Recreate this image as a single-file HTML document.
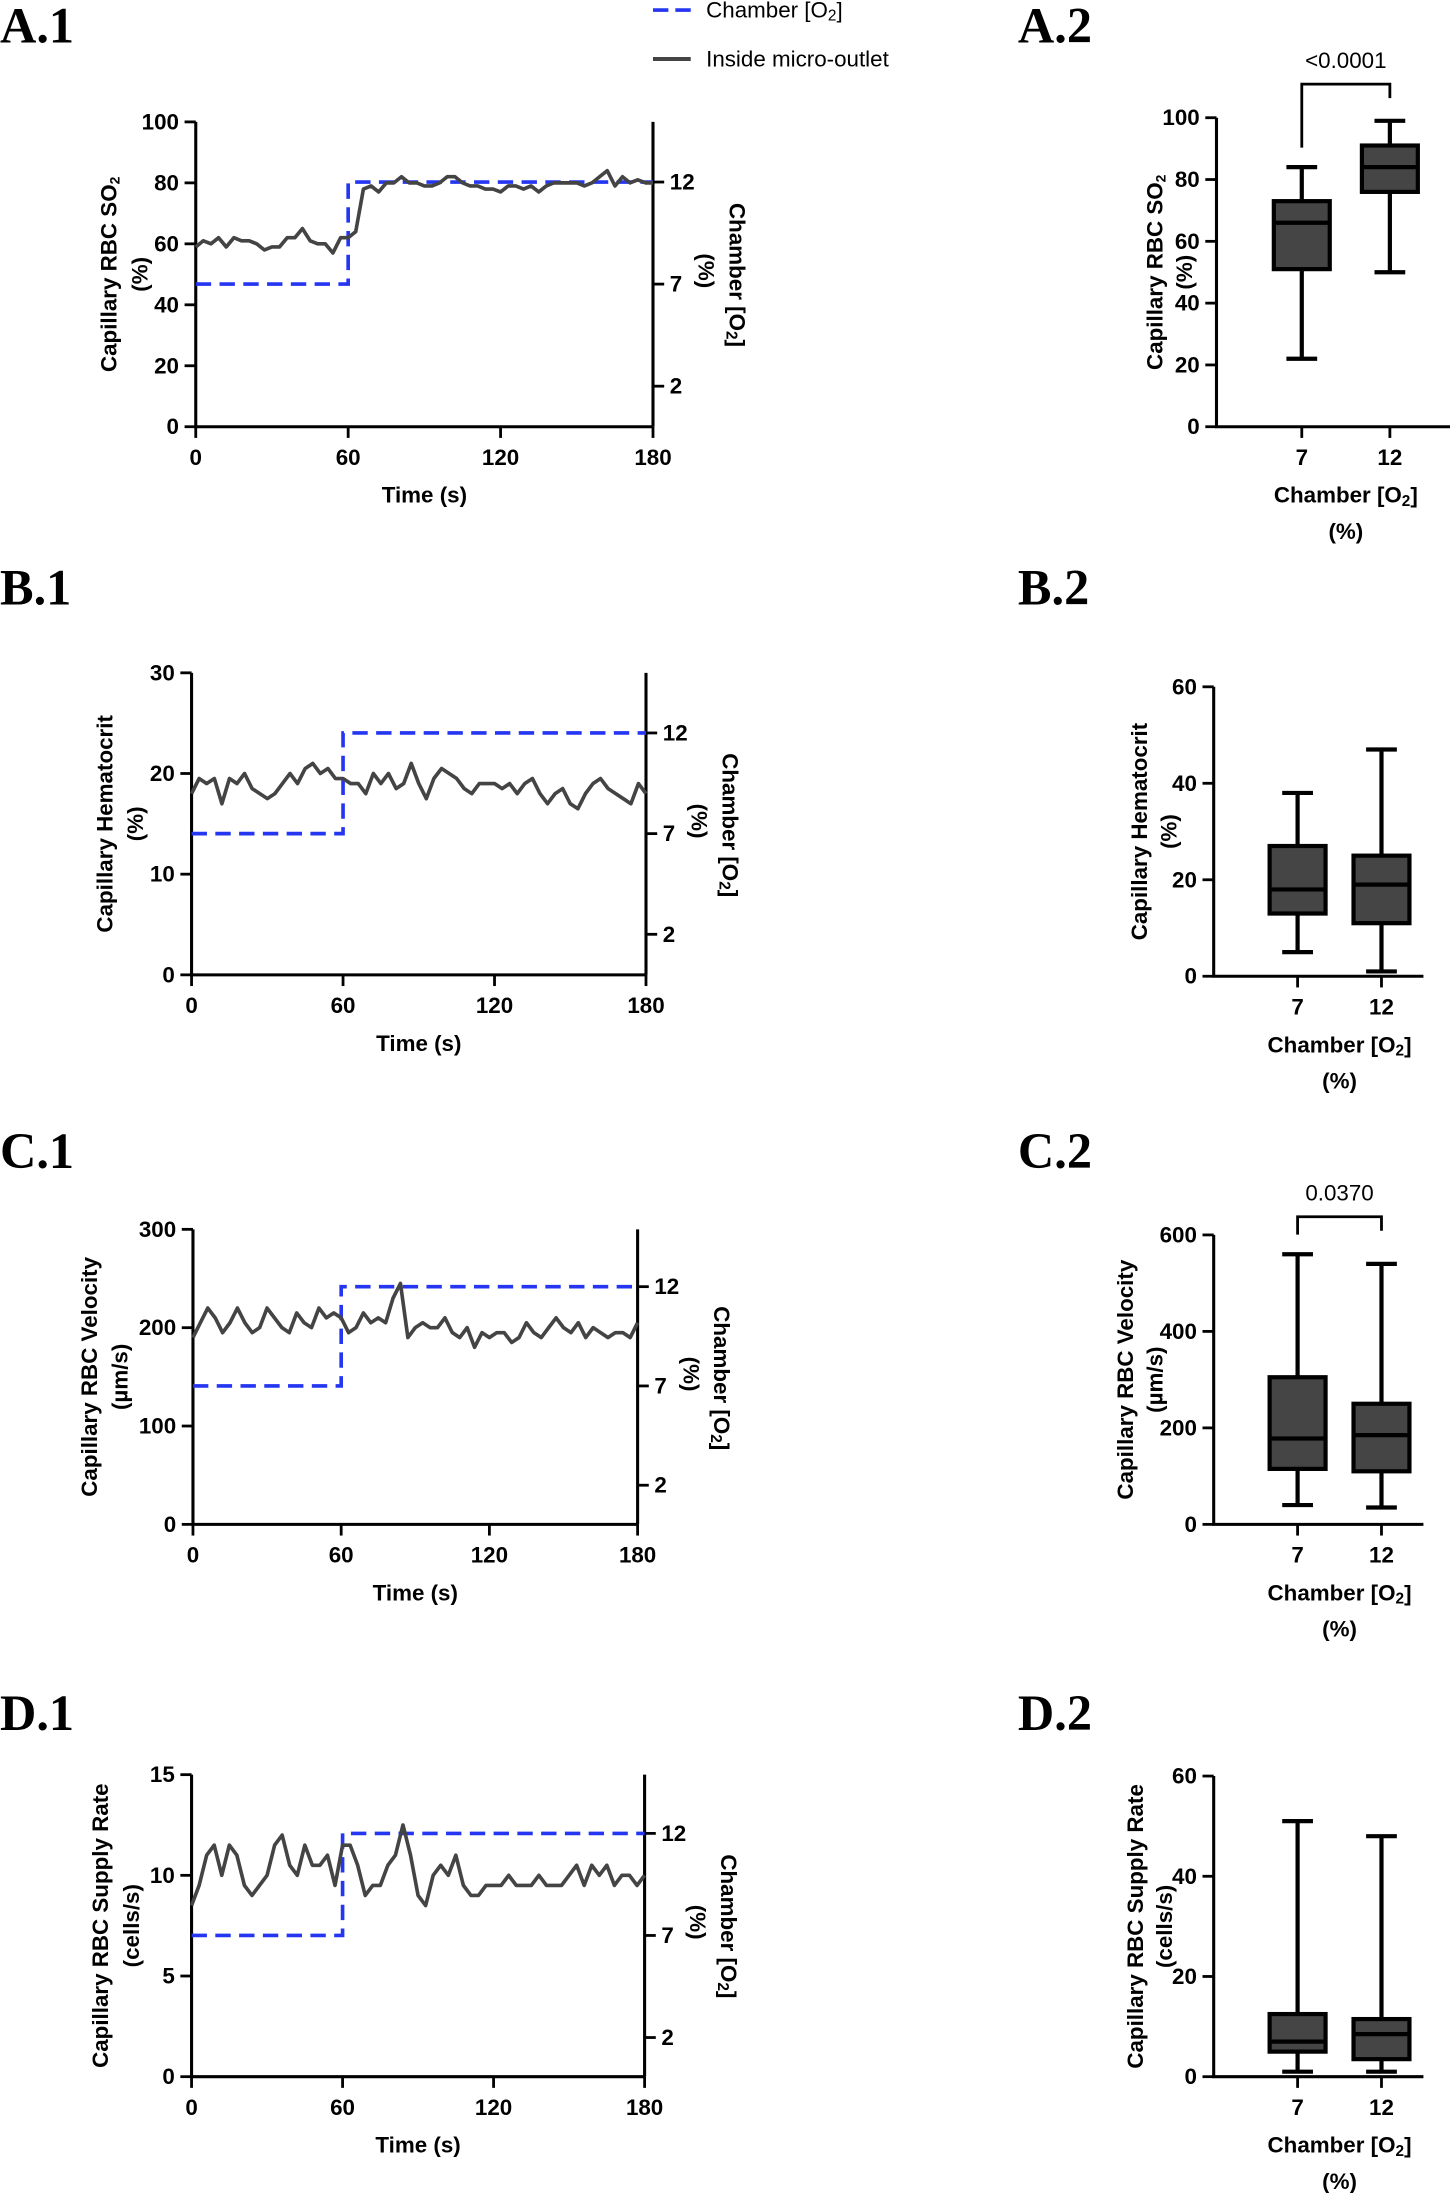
<!DOCTYPE html>
<html><head><meta charset="utf-8"><style>
html,body{margin:0;padding:0;background:#fff;}
svg{display:block;font-family:"Liberation Sans",sans-serif;}
.t{font-weight:bold;font-size:16px;fill:#000;}
.pl{font-family:"Liberation Serif",serif;font-weight:bold;font-size:36px;fill:#000;}
</style></head><body>
<svg id="fig" width="1450" height="2193" viewBox="0 0 1037 1568" xmlns="http://www.w3.org/2000/svg"></svg>
<script>
// ---- data ----
const timeS = [0,3,6,9,12,15,18,21,24,27,30,33,36,39,42,45,48,51,54,57,60,63,66,69,72,75,78,81,84,87,90,93,96,99,102,105,108,111,114,117,120,123,126,129,132,135,138,141,144,147,150,153,156,159,162,165,168,171,174,177,180];
const so2Trace = [59,61,60,62,59,62,61,61,60,58,59,59,62,62,65,61,60,60,57,62,62,64,78,79,77,80,80,82,80,80,79,79,80,82,82,80,79,79,78,78,77,79,79,78,79,77,79,80,80,80,80,79,80,82,84,79,82,80,81,80,80];
const hctTrace = [18,19.5,19,19.5,17,19.5,19,20,18.5,18,17.5,18,19,20,19,20.5,21,20,20.5,19.5,19.5,19,19,18,20,19,20,18.5,19,21,19,17.5,19.5,20.5,20,19.5,18.5,18,19,19,19,18.5,19,18,19,19.5,18,17,18,18.5,17,16.5,18,19,19.5,18.5,18,17.5,17,19,18];
const velTrace = [190,205,220,210,195,205,220,205,195,200,220,210,200,195,215,205,200,220,210,215,210,195,200,215,205,210,205,230,245,190,200,205,200,200,210,195,190,200,180,195,190,195,195,185,190,205,195,190,200,210,200,195,205,190,200,195,190,195,195,190,205];
const supTrace = [8.5,9.5,11,11.5,10,11.5,11,9.5,9,9.5,10,11.5,12,10.5,10,11.5,10.5,10.5,11,9.5,11.5,11.5,10.5,9,9.5,9.5,10.5,11,12.5,11,9,8.5,10,10.5,10,11,9.5,9,9,9.5,9.5,9.5,10,9.5,9.5,9.5,10,9.5,9.5,9.5,10,10.5,9.5,10.5,10,10.5,9.5,10,10,9.5,10];
const chamberTimes = [0,60,60,180];
const chamberO2 = [7,7,12,12];
const groups = ["7","12"];
// box stats: [min,q1,median,q3,max]
const so2Box = [[22,51,66,73,84],[50,76,84,91,99]];
const hctBox = [[5,13,18,27,38],[1,11,19,25,47]];
const velBox = [[40,115,178,305,560],[35,110,185,250,540]];
const supBox = [[1,5,7,12.5,51],[1,3.5,8.5,11.5,48]];
const pvalues = ["<0.0001", null, "0.0370", null];

const svg = document.getElementById('fig');
const NS = 'http://www.w3.org/2000/svg';
function mk(tag, attrs, parent, text){
  const e = document.createElementNS(NS, tag);
  for (const k in attrs) e.setAttribute(k, attrs[k]);
  if (text !== undefined) e.textContent = text;
  (parent||svg).appendChild(e);
  return e;
}
function txt(x,y,s,cls,anchor,parent,rot){
  const e = mk('text',{x:x,y:y,'class':cls||'t','text-anchor':anchor||'middle','dominant-baseline':'central'},parent);
  if (rot) e.setAttribute('transform','rotate('+rot+' '+x+' '+y+')');
  e.innerHTML = s;
  return e;
}

const panels = [
 {lab:'A.1',lab2:'A.2',ly:18,L:140,R:467,T:87,B:305,ymax:100,yt:[0,20,40,60,80,100],tr:so2Trace,
  r12:130,r7:203,title:'Capillary RBC SO<tspan font-size="10" dy="4">2</tspan>',tx:78,
  bL:870,bT:84,bB:305,bmax:100,byt:[0,20,40,60,80,100],x7:931,x12:994,box:so2Box,bx:826,p:0,py:60,
  bxEnd:1037},
 {lab:'B.1',lab2:'B.2',ly:420,L:137,R:462,T:481,B:697,ymax:30,yt:[0,10,20,30],tr:hctTrace,
  r12:524,r7:596,title:'Capillary Hematocrit',tx:75,
  bL:868,bT:491,bB:698,bmax:60,byt:[0,20,40,60],x7:928,x12:988,box:hctBox,bx:815,p:1,bxEnd:1018},
 {lab:'C.1',lab2:'C.2',ly:823,L:138,R:456,T:879,B:1090,ymax:300,yt:[0,100,200,300],tr:velTrace,
  r12:920,r7:991,title:'Capillary RBC Velocity',sub:'(µm/s)',tx:64,
  bL:868,bT:883,bB:1090,bmax:600,byt:[0,200,400,600],x7:928,x12:988,box:velBox,bx:815,p:2,py:870,bxEnd:1018},
 {lab:'D.1',lab2:'D.2',ly:1225,L:137,R:461,T:1269,B:1485,ymax:15,yt:[0,5,10,15],tr:supTrace,
  r12:1311,r7:1384,title:'Capillary RBC Supply Rate',sub:'(cells/s)',tx:72,
  bL:868,bT:1270,bB:1485,bmax:60,byt:[0,20,40,60],x7:928,x12:988,box:supBox,bx:822,bsx:846,p:3,bxEnd:1018}
];

panels.forEach((P,i)=>{
  const g = mk('g',{});
  
  
  const pl = txt(0,P.ly,P.lab,'pl','start',g);
  
  
  const xs = t => P.L + (t/180)*(P.R-P.L);
  const ys = v => P.B - (v/P.ymax)*(P.B-P.T);
  const rsc = v => P.r7 + (v-7)*(P.r12-P.r7)/5;
  const ax = mk('path',{d:`M${P.L},${P.T}V${P.B}H${P.R}M${P.R},${P.T}V${P.B}`,stroke:'#000','stroke-width':2.2,fill:'none'},g);
  
  
  P.yt.forEach(v=>{
    mk('line',{x1:P.L-8,x2:P.L,y1:ys(v),y2:ys(v),stroke:'#000','stroke-width':2},g);
    txt(P.L-12,ys(v),String(v),'t','end',g);
  });
  [0,60,120,180].forEach(v=>{
    mk('line',{x1:xs(v),x2:xs(v),y1:P.B,y2:P.B+8,stroke:'#000','stroke-width':2},g);
    txt(xs(v),P.B+22,String(v),'t','middle',g);
  });
  [2,7,12].forEach(v=>{
    mk('line',{x1:P.R,x2:P.R+8,y1:rsc(v),y2:rsc(v),stroke:'#000','stroke-width':2},g);
    txt(P.R+12,rsc(v),String(v),'t','start',g);
  });
  const xt = txt((P.L+P.R)/2,P.B+49,'Time (s)','t','middle',g);
  
  
  const cy = (P.T+P.B)/2;
  txt(P.tx,cy,P.title,'t','middle',g,-90);
  txt(P.tx+22,cy,P.sub||'(%)','t','middle',g,-90);
  const rcy = (P.r12+P.r7)/2+30;
  txt(P.R+60,rcy,'Chamber [O<tspan font-size="11" dy="4">2</tspan><tspan dy="-4">]</tspan>','t','middle',g,90);
  txt(P.R+38,rcy-3,'(%)','t','middle',g,90);
  let d='';
  chamberTimes.forEach((t,k)=>{ d += (k?'L':'M')+xs(t)+','+rsc(chamberO2[k]); });
  const cl = mk('path',{d:d,stroke:'#2436f2','stroke-width':2.6,fill:'none','stroke-dasharray':'11,6'},g);
  
  
  d='';
  timeS.forEach((t,k)=>{ d += (k?'L':'M')+xs(t).toFixed(1)+','+ys(P.tr[k]).toFixed(1); });
  const tl = mk('path',{d:d,stroke:'#444','stroke-width':2.6,fill:'none','stroke-linejoin':'round'},g);
  
  

  const bg = mk('g',{});
  
  
  const bl = txt(728,P.ly,P.lab2,'pl','start',bg);
  
  
  const bys = v => P.bB - (v/P.bmax)*(P.bB-P.bT);
  mk('path',{d:`M${P.bL},${P.bT}V${P.bB}H${P.bxEnd}`,stroke:'#000','stroke-width':2.2,fill:'none'},bg);
  P.byt.forEach(v=>{
    mk('line',{x1:P.bL-8,x2:P.bL,y1:bys(v),y2:bys(v),stroke:'#000','stroke-width':2},bg);
    txt(P.bL-12,bys(v),String(v),'t','end',bg);
  });
  const gx=[P.x7,P.x12];
  groups.forEach((gname,k)=>{
    const x=gx[k], s=P.box[k];
    mk('line',{x1:x,x2:x,y1:P.bB,y2:P.bB+8,stroke:'#000','stroke-width':2},bg);
    txt(x,P.bB+22,gname,'t','middle',bg);
    const b = mk('g',{},bg);
    
    
    mk('line',{x1:x,x2:x,y1:bys(s[0]),y2:bys(s[4]),stroke:'#000','stroke-width':3},b);
    mk('line',{x1:x-11,x2:x+11,y1:bys(s[0]),y2:bys(s[0]),stroke:'#000','stroke-width':3},b);
    mk('line',{x1:x-11,x2:x+11,y1:bys(s[4]),y2:bys(s[4]),stroke:'#000','stroke-width':3},b);
    mk('rect',{x:x-20,y:bys(s[3]),width:40,height:bys(s[1])-bys(s[3]),fill:'#454545',stroke:'#000','stroke-width':3},b);
    mk('line',{x1:x-20,x2:x+20,y1:bys(s[2]),y2:bys(s[2]),stroke:'#000','stroke-width':3},b);
  });
  const bcx=(P.x7+P.x12)/2;
  txt(bcx,P.bB+49,'Chamber [O<tspan font-size="11" dy="4">2</tspan><tspan dy="-4">]</tspan>','t','middle',bg);
  txt(bcx,P.bB+75,'(%)','t','middle',bg);
  const bcy=(P.bT+P.bB)/2;
  const bx = P.bx - (P.sub ? 10 : 0);
  txt(bx,bcy,P.title,'t','middle',bg,-90);
  txt(bx+21,bcy,P.sub||'(%)','t','middle',bg,-90);
  const pv = pvalues[P.p];
  if (pv){
    const y7 = bys(P.box[0][4])-14, y12 = bys(P.box[1][4])-14;
    const br = mk('path',{d:`M${P.x7},${y7}V${P.py}H${P.x12}V${Math.min(y12,P.py+10)}`,stroke:'#000','stroke-width':2,fill:'none'},bg);
    
    
    const pt = txt(bcx,P.py-17,pv.replace('<','&lt;'),'t','middle',bg);
    pt.setAttribute('style','font-weight:normal');
    
    
  }
});
const lg = mk('g',{});


mk('line',{x1:467,x2:494,y1:7,y2:7,stroke:'#2436f2','stroke-width':2.6,'stroke-dasharray':'11,5'},lg);
const l1 = txt(505,7,'Chamber [O<tspan font-size="11" dy="4">2</tspan><tspan dy="-4">]</tspan>','t','start',lg);
l1.setAttribute('style','font-weight:normal');


mk('line',{x1:467,x2:494,y1:42,y2:42,stroke:'#444','stroke-width':2.8},lg);
const l2 = txt(505,42,'Inside micro-outlet','t','start',lg);
l2.setAttribute('style','font-weight:normal');


</script>
</body></html>
